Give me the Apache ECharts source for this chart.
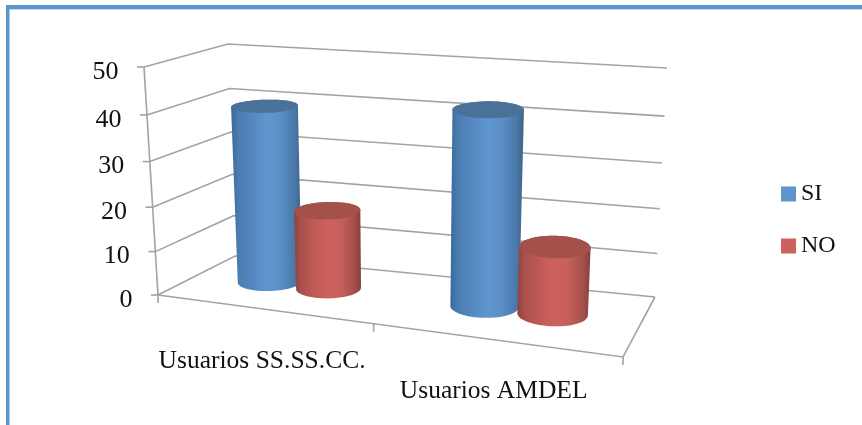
<!DOCTYPE html>
<html>
<head>
<meta charset="utf-8">
<style>html,body{margin:0;padding:0;background:#fff}#chart{width:862px;height:425px}</style>
<script src="https://cdn.jsdelivr.net/npm/echarts@6/dist/echarts.min.js"></script>
</head>
<body>
<div id="chart"></div>
<script>
// Survey answers per user group
const categories = ['Usuarios SS.SS.CC.', 'Usuarios AMDEL'];
const yesValues = [40, 43];
const noValues = [18, 15];
const valueTicks = [0, 10, 20, 30, 40, 50];
const valueMax = 50;

const FONT = '"Liberation Serif", serif';
const TEXT_COLOR = '#111';
const GRID_LINE = { stroke: '#a3a3a3', lineWidth: 1.6 };

// Corners of the 3D plot box on screen, floor and ceiling
const FLOOR = { fl: [158, 295], fr: [623, 357], br: [655, 297], bl: [235, 256] };
const CEIL = { fl: [144, 67], fr: [635, 111], br: [667, 68], bl: [228, 44] };
const PERSPECTIVE = -0.135;       // foreshortening along the category direction
const PERSPECTIVE_VALUE = -0.06;  // foreshortening up the value axis
const BAR_DEPTH = 0.55;     // where the cylinders stand between front and back
const BAR_OFFSET = 0.144;   // centre offset from the category middle, in bands
const BAR_RADIUS = 0.142;   // cylinder radius across the category, in bands
const BAR_RADIUS_DEPTH = 0.21;

const lerp = (a, b, t) => [a[0] + (b[0] - a[0]) * t, a[1] + (b[1] - a[1]) * t];
const warp = (s, g) => s * (1 + g) / (1 + g * s);
function plane(q, u, d) {
  const w = warp(u, PERSPECTIVE);
  return lerp(lerp(q.fl, q.fr, w), lerp(q.bl, q.br, w), d);
}
// u: 0..1 across the categories, d: 0..1 front to back, t: 0..1 up the value axis
function project(u, d, t) {
  return lerp(plane(FLOOR, u, d), plane(CEIL, u, d), warp(t, PERSPECTIVE_VALUE));
}

const W = 862, H = 425;
const toU = px => px / W;
const toT = py => (H - py) / H;

function renderFrame(params, api) {
  const t = toT(api.coord([0, api.value(1)])[1]);
  const front = project(0, 0, t), back = project(0, 1, t), right = project(1, 1, t);
  const children = [
    { type: 'polyline', shape: { points: [front, back, right] }, style: { ...GRID_LINE, fill: null } },
    { type: 'line', shape: { x1: front[0] - 7, y1: front[1], x2: front[0], y2: front[1] }, style: GRID_LINE },
    { type: 'text', style: { x: front[0] - 25.5, y: front[1] + 5, text: String(api.value(1)),
      align: 'right', verticalAlign: 'middle', font: '26px ' + FONT, fill: TEXT_COLOR } }
  ];
  return { type: 'group', children };
}

function renderFloor() {
  const corners = [project(0, 0, 0), project(1, 0, 0), project(1, 1, 0)];
  const children = [
    { type: 'polyline', shape: { points: corners }, style: { ...GRID_LINE, fill: null } },
    { type: 'line', shape: { x1: project(0, 0, 1)[0], y1: project(0, 0, 1)[1],
      x2: corners[0][0], y2: corners[0][1] }, style: GRID_LINE }
  ];
  for (let i = 0; i <= categories.length; i++) {
    const p = project(i / categories.length, 0, 0);
    children.push({ type: 'line', shape: { x1: p[0], y1: p[1], x2: p[0], y2: p[1] + 8 }, style: GRID_LINE });
  }
  return { type: 'group', children };
}

function renderCategory(params, api) {
  const c = api.coord([api.value(0), 0]);
  const p = project(toU(c[0]), 0, 0);
  return { type: 'text', style: { x: p[0], y: p[1] + 52, text: categories[api.value(0)],
    align: 'center', verticalAlign: 'middle', font: '25.5px ' + FONT, fill: TEXT_COLOR } };
}

// Elliptical rim of a cylinder, projected from a circle on a horizontal plane
function rim(uc, ru, t) {
  const pts = [];
  for (let i = 0; i < 64; i++) {
    const a = i / 64 * Math.PI * 2;
    pts.push(project(uc + ru * Math.cos(a), BAR_DEPTH + BAR_RADIUS_DEPTH * Math.sin(a), t));
  }
  return pts;
}

function cylinderRenderer(sign, stops, capColor) {
  return function (params, api) {
    const c = api.coord([api.value(0), api.value(1)]);
    const band = api.size([1, 0])[0];
    const uc = toU(c[0] + sign * BAR_OFFSET * band);
    const ru = toU(BAR_RADIUS * band);
    const top = rim(uc, ru, toT(c[1]));
    const bottom = rim(uc, ru, 0);
    const extreme = (pts, pick) => pts.reduce((m, p, i) => pick(p[0], pts[m][0]) ? i : m, 0);
    const walk = (pts, from, to) => {
      const out = [];
      for (let i = from; ; i = (i + 1) % pts.length) {
        out.push(pts[i]);
        if (i === to) return out;
      }
    };
    const tl = extreme(top, (a, b) => a < b), tr = extreme(top, (a, b) => a > b);
    const bl = extreme(bottom, (a, b) => a < b), br = extreme(bottom, (a, b) => a > b);
    // Wall outline: along the near side of the base, up, and back over the top rim
    const wall = walk(bottom, bl, br).concat(walk(top, tr, tl));
    const x0 = Math.min(top[tl][0], bottom[bl][0]);
    const x1 = Math.max(top[tr][0], bottom[br][0]);
    const fill = new echarts.graphic.LinearGradient(x0, 0, x1, 0, stops, true);
    return { type: 'group', children: [
      { type: 'polygon', shape: { points: wall }, style: { fill } },
      { type: 'polygon', shape: { points: top }, style: { fill: capColor } }
    ] };
  };
}

const BLUE_STOPS = [
  { offset: 0, color: '#3a6a9a' }, { offset: 0.1, color: '#4a7cb0' }, { offset: 0.3, color: '#5488bf' },
  { offset: 0.5, color: '#6096cf' }, { offset: 0.7, color: '#5a8fc6' }, { offset: 0.9, color: '#4a78a8' },
  { offset: 1, color: '#3c6488' }
];
const RED_STOPS = [
  { offset: 0, color: '#8e4340' }, { offset: 0.1, color: '#aa504c' }, { offset: 0.3, color: '#bf5a55' },
  { offset: 0.5, color: '#cd625d' }, { offset: 0.7, color: '#c65f5a' }, { offset: 0.9, color: '#a54f4b' },
  { offset: 1, color: '#86403d' }
];

const chart = echarts.init(document.getElementById('chart'), null, { renderer: 'canvas' });
chart.setOption({
  animation: false,
  backgroundColor: '#fff',
  grid: { left: 0, right: 0, top: 0, bottom: 0 },
  xAxis: { type: 'category', data: categories, show: false },
  yAxis: { type: 'value', min: 0, max: valueMax, interval: 10, show: false },
  legend: {
    orient: 'vertical', left: 776, top: 177, itemWidth: 15, itemHeight: 15, itemGap: 28,
    icon: 'rect', data: ['SI', 'NO'], selectedMode: false,
    textStyle: { fontFamily: FONT, fontSize: 24, color: TEXT_COLOR }
  },
  graphic: [
    { type: 'rect', silent: true, shape: { x: 6, y: 5, width: 856, height: 4 }, style: { fill: '#5b93cb' } },
    { type: 'rect', silent: true, shape: { x: 9, y: 9, width: 853, height: 1 }, style: { fill: '#c6dcf1' } },
    { type: 'rect', silent: true, shape: { x: 6, y: 5, width: 3.5, height: 420 }, style: { fill: '#5b93cb' } }
  ],
  series: [
    { type: 'custom', silent: true, renderItem: renderFrame, data: valueTicks.map(t => [0, t]), z: 1 },
    { type: 'custom', silent: true, renderItem: renderFloor, data: [[0, 0]], z: 1 },
    { type: 'custom', silent: true, renderItem: renderCategory, data: categories.map((c, i) => [i, 0]), z: 1 },
    { name: 'SI', type: 'custom', itemStyle: { color: '#5f95cd' }, z: 2,
      renderItem: cylinderRenderer(-1, BLUE_STOPS, '#4a7299'), data: yesValues.map((v, i) => [i, v]) },
    { name: 'NO', type: 'custom', itemStyle: { color: '#cd625d' }, z: 3,
      renderItem: cylinderRenderer(1, RED_STOPS, '#a5514b'), data: noValues.map((v, i) => [i, v]) }
  ]
});
</script>
</body>
</html>
